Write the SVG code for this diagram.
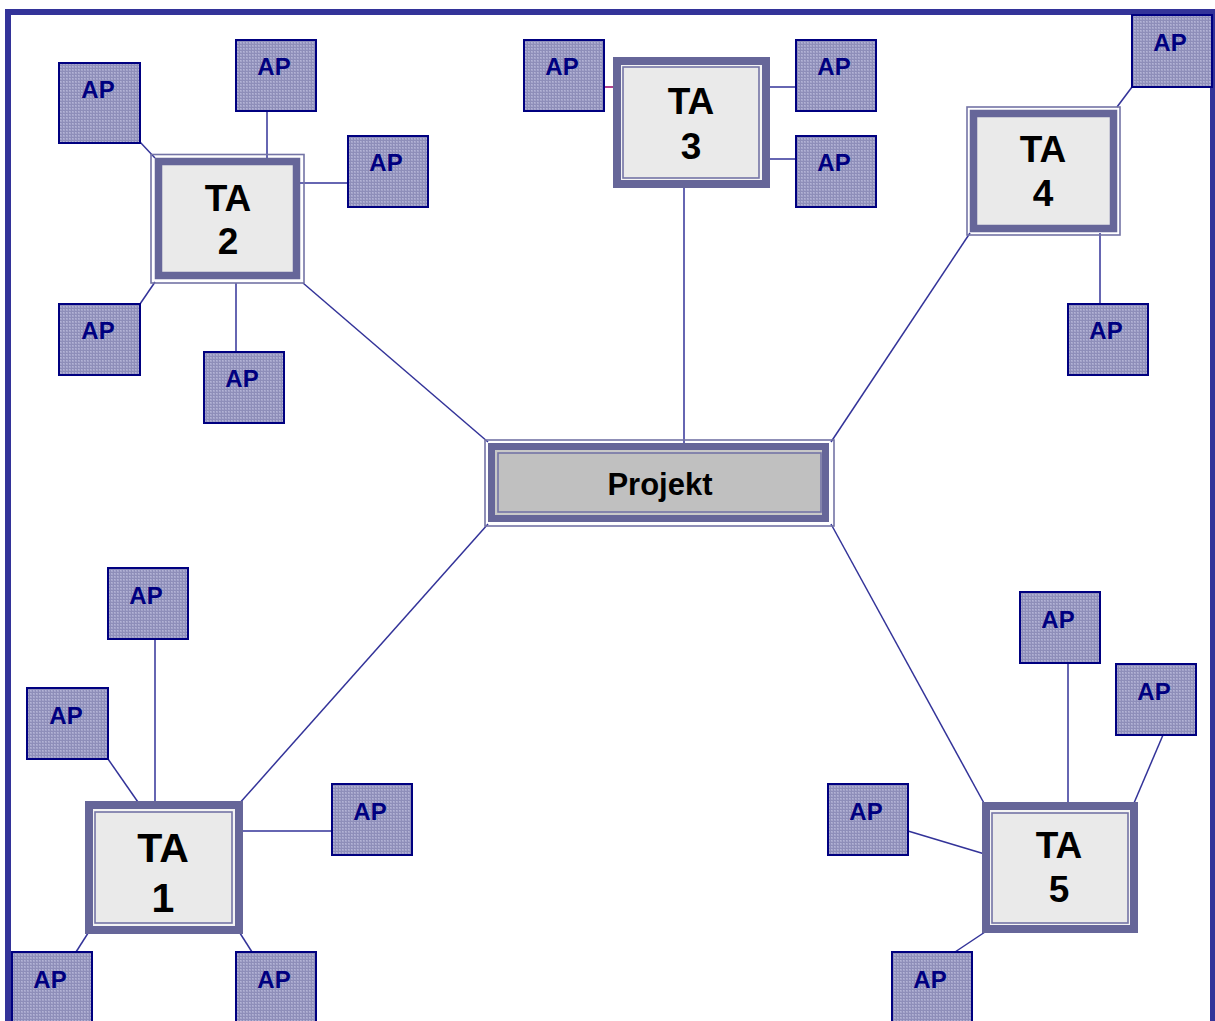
<svg xmlns="http://www.w3.org/2000/svg" width="1215" height="1021" viewBox="0 0 1215 1021">
  <defs>
    <!-- fine dotted grid used as fill for the AP boxes -->
    <pattern id="apGrid" width="3" height="3" patternUnits="userSpaceOnUse">
      <rect width="3" height="3" fill="#8E8EB9"/>
      <rect x="0" y="0" width="2" height="2" fill="#A4A4CA"/>
      <rect x="0" y="0" width="1" height="1" fill="#B4B4D6"/>
    </pattern>
    <style>
      .frame { fill: none; stroke: #333399; stroke-width: 6; }
      .conn { stroke: #333399; stroke-width: 1.5; fill: none; }
      .connAlt { stroke: #990066; stroke-width: 1.5; fill: none; }
      .ap rect { fill: url(#apGrid); stroke: #000080; stroke-width: 2; }
      .ap text { font-family: "Liberation Sans", Arial, sans-serif; font-weight: bold; font-size: 24px; fill: #000080; text-anchor: middle; }
      .thick { fill: #EAEAEA; stroke: #666699; stroke-width: 7.5; }
      .thin { fill: none; stroke: #7474A6; stroke-width: 1.6; }
      .inner { fill: #EAEAEA; stroke: #7474A6; stroke-width: 1.6; }
      .ta text { font-family: "Liberation Sans", Arial, sans-serif; font-weight: bold; font-size: 37px; fill: #000000; text-anchor: middle; }
      .proj text { font-family: "Liberation Sans", Arial, sans-serif; font-weight: bold; font-size: 31px; fill: #000000; text-anchor: middle; }
    </style>
  </defs>

  <rect width="1215" height="1021" fill="#FFFFFF"/>

  <!-- outer frame -->
  <rect class="frame" x="8" y="12" width="1205" height="1030"/>

  <!-- connectors -->
  <g id="connectors">
    <!-- TA to Projekt -->
    <line class="conn" x1="303" y1="283" x2="488" y2="442"/>
    <line class="conn" x1="684" y1="188" x2="684" y2="445"/>
    <line class="conn" x1="970" y1="233" x2="831" y2="442"/>
    <line class="conn" x1="238" y1="805" x2="488" y2="524"/>
    <line class="conn" x1="985" y1="805" x2="831" y2="524"/>
    <!-- TA 2 -->
    <line class="conn" x1="140" y1="142" x2="155" y2="158"/>
    <line class="conn" x1="267" y1="111" x2="267" y2="158"/>
    <line class="conn" x1="300" y1="183" x2="348" y2="183"/>
    <line class="conn" x1="140" y1="304" x2="155" y2="282"/>
    <line class="conn" x1="236" y1="283" x2="236" y2="352"/>
    <!-- TA 3 -->
    <line class="connAlt" x1="604" y1="87" x2="618" y2="87"/>
    <line class="conn" x1="764" y1="87" x2="796" y2="87"/>
    <line class="conn" x1="764" y1="159" x2="796" y2="159"/>
    <!-- TA 4 -->
    <line class="conn" x1="1132" y1="87" x2="1117" y2="107"/>
    <line class="conn" x1="1100" y1="233" x2="1100" y2="304"/>
    <!-- TA 1 -->
    <line class="conn" x1="155" y1="639" x2="155" y2="805"/>
    <line class="conn" x1="108" y1="759" x2="140" y2="805"/>
    <line class="conn" x1="238" y1="831" x2="332" y2="831"/>
    <line class="conn" x1="76" y1="952" x2="90" y2="930"/>
    <line class="conn" x1="252" y1="952" x2="238" y2="930"/>
    <!-- TA 5 -->
    <line class="conn" x1="1068" y1="663" x2="1068" y2="806"/>
    <line class="conn" x1="1163" y1="735" x2="1134" y2="803"/>
    <line class="conn" x1="908" y1="831" x2="988" y2="855"/>
    <line class="conn" x1="955" y1="952" x2="988" y2="930"/>
  </g>

  <!-- Projekt -->
  <g id="projekt" class="proj">
    <rect class="thin" x="485" y="440" width="349" height="86"/>
    <rect x="491.5" y="446.5" width="334" height="72" fill="#C8C8C8" stroke="#666699" stroke-width="7"/>
    <rect x="498" y="453" width="323" height="59" fill="#C0C0C0" stroke="#7474A6" stroke-width="1.6"/>
    <text x="660" y="495">Projekt</text>
  </g>

  <!-- TA 2 -->
  <g id="ta2" class="ta">
    <rect class="thin" x="151" y="154.5" width="153" height="128.5"/>
    <rect class="thick" x="158.5" y="161.5" width="138" height="114"/>
    <text x="228" y="211">TA</text>
    <text x="228" y="254">2</text>
  </g>

  <!-- TA 3 -->
  <g id="ta3" class="ta">
    <rect x="617" y="61" width="149" height="123" fill="#F4F4F4" stroke="#666699" stroke-width="8"/>
    <rect class="inner" x="623" y="67" width="136" height="111"/>
    <text x="691" y="114">TA</text>
    <text x="691" y="159">3</text>
  </g>

  <!-- TA 4 -->
  <g id="ta4" class="ta">
    <rect class="thin" x="967" y="107" width="153" height="128"/>
    <rect class="thick" x="973.5" y="113.5" width="140" height="115"/>
    <text x="1043" y="162">TA</text>
    <text x="1043" y="206">4</text>
  </g>

  <!-- TA 1 -->
  <g id="ta1" class="ta">
    <rect x="89" y="805" width="150" height="125" fill="#F4F4F4" stroke="#666699" stroke-width="8"/>
    <rect class="inner" x="95" y="812" width="137" height="111"/>
    <text x="163" y="862" style="font-size:41px">TA</text>
    <text x="163" y="912" style="font-size:41px">1</text>
  </g>

  <!-- TA 5 -->
  <g id="ta5" class="ta">
    <rect x="986" y="806" width="148" height="123" fill="#F4F4F4" stroke="#666699" stroke-width="8"/>
    <rect class="inner" x="992" y="813" width="136" height="110"/>
    <text x="1059" y="858">TA</text>
    <text x="1059" y="902">5</text>
  </g>

  <!-- AP boxes -->
  <g id="ap1" class="ap"><rect x="59" y="63" width="81" height="80"/><text x="98" y="98">AP</text></g>
  <g id="ap2" class="ap"><rect x="236" y="40" width="80" height="71"/><text x="274" y="75">AP</text></g>
  <g id="ap3" class="ap"><rect x="348" y="136" width="80" height="71"/><text x="386" y="171">AP</text></g>
  <g id="ap4" class="ap"><rect x="59" y="304" width="81" height="71"/><text x="98" y="339">AP</text></g>
  <g id="ap5" class="ap"><rect x="204" y="352" width="80" height="71"/><text x="242" y="387">AP</text></g>
  <g id="ap6" class="ap"><rect x="524" y="40" width="80" height="71"/><text x="562" y="75">AP</text></g>
  <g id="ap7" class="ap"><rect x="796" y="40" width="80" height="71"/><text x="834" y="75">AP</text></g>
  <g id="ap8" class="ap"><rect x="796" y="136" width="80" height="71"/><text x="834" y="171">AP</text></g>
  <g id="ap9" class="ap"><rect x="1132" y="15" width="80" height="72"/><text x="1170" y="51">AP</text></g>
  <g id="ap10" class="ap"><rect x="1068" y="304" width="80" height="71"/><text x="1106" y="339">AP</text></g>
  <g id="ap11" class="ap"><rect x="108" y="568" width="80" height="71"/><text x="146" y="604">AP</text></g>
  <g id="ap12" class="ap"><rect x="27" y="688" width="81" height="71"/><text x="66" y="724">AP</text></g>
  <g id="ap13" class="ap"><rect x="332" y="784" width="80" height="71"/><text x="370" y="820">AP</text></g>
  <g id="ap14" class="ap"><rect x="12" y="952" width="80" height="80"/><text x="50" y="988">AP</text></g>
  <g id="ap15" class="ap"><rect x="236" y="952" width="80" height="80"/><text x="274" y="988">AP</text></g>
  <g id="ap16" class="ap"><rect x="1020" y="592" width="80" height="71"/><text x="1058" y="628">AP</text></g>
  <g id="ap17" class="ap"><rect x="1116" y="664" width="80" height="71"/><text x="1154" y="700">AP</text></g>
  <g id="ap18" class="ap"><rect x="828" y="784" width="80" height="71"/><text x="866" y="820">AP</text></g>
  <g id="ap19" class="ap"><rect x="892" y="952" width="80" height="80"/><text x="930" y="988">AP</text></g>
</svg>
